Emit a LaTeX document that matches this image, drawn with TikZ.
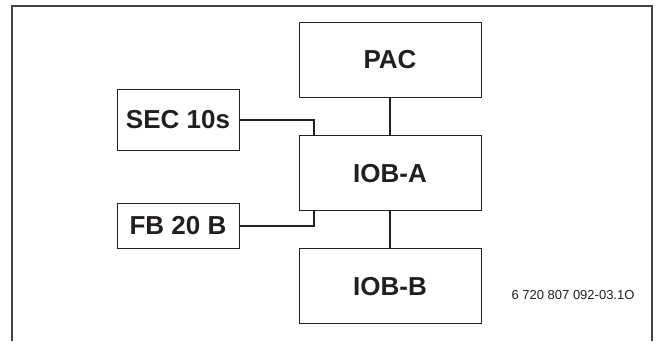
\documentclass[tikz,border=0pt]{standalone}
\usepackage{fontspec}
\setmainfont{Liberation Sans}
\usetikzlibrary{positioning}

\definecolor{ink}{RGB}{35,31,32}

\begin{document}
\begin{tikzpicture}[
        x=1pt, y=-1pt,
        node distance=38pt,
        every node/.style={text=ink},
        unit/.style={draw=ink, line width=0.9pt, rectangle, minimum width=182pt, minimum height=75pt, font=\fontsize{26}{30}\selectfont\bfseries},
        aux/.style={draw=ink, line width=0.9pt, rectangle, minimum width=122pt, font=\fontsize{26}{30}\selectfont\bfseries},
        wire/.style={draw=ink, line width=2pt},
        frame/.style={draw=ink!85, line width=1.5pt}
    ]

    \useasboundingbox (0,0) rectangle (656,341);

    \draw[frame] (12,341) |- (652,6) -- (652,341);

    \node[unit] (pac) at (390,59.5) {PAC};
    \node[unit, below=38pt of pac] (ioba) {IOB-A};
    \node[unit, below=37pt of ioba] (iobb) {IOB-B};

    \node[aux, minimum height=61pt] (sec) at (178,119.5) {SEC 10s};
    \node[aux, minimum height=45pt] (fb) at (178,225.5) {FB 20 B};

    \node[anchor=east, font=\fontsize{13}{15}\selectfont] (docno) at (638,295) {6 720 807 092-03.1O};

    \coordinate (secdrop) at ([xshift=15pt]ioba.north west);
    \coordinate (fbrise) at ([xshift=15pt]ioba.south west);

    \draw[wire] (pac.south) -- (ioba.north);
    \draw[wire] (ioba.south) -- (iobb.north);
    \draw[wire] (sec.east) -| (secdrop);
    \draw[wire] (fb.east) -| (fbrise);

\end{tikzpicture}
\end{document}
